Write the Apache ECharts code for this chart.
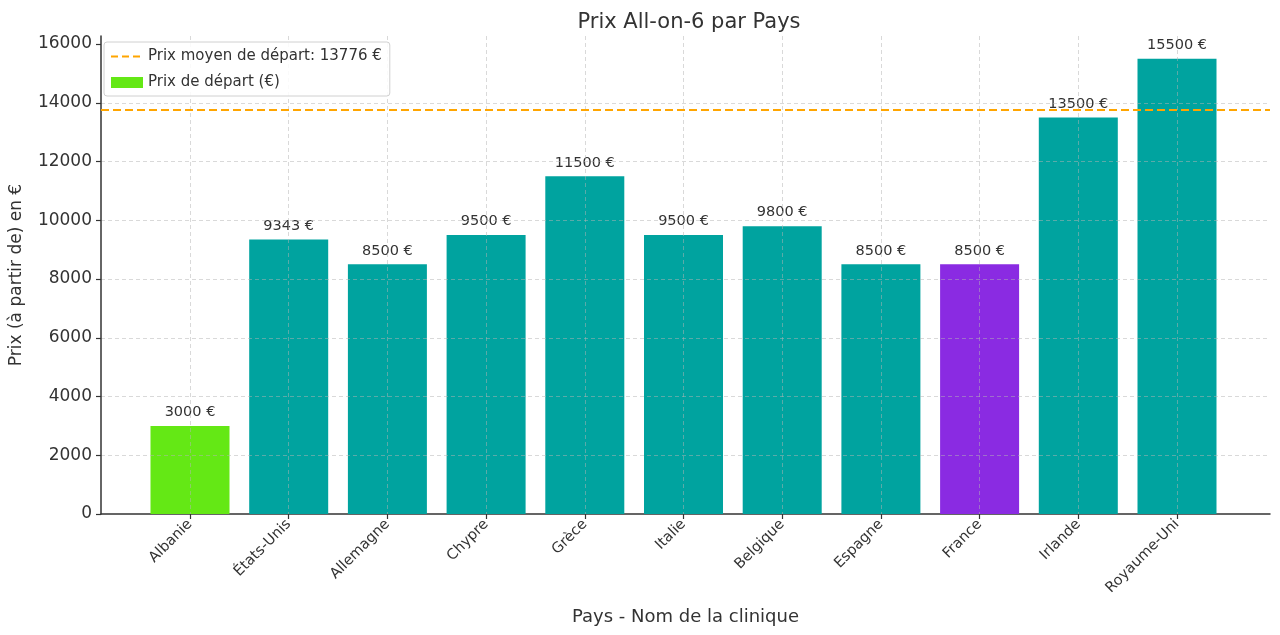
<!DOCTYPE html>
<html>
<head>
<meta charset="utf-8">
<script src="https://cdn.jsdelivr.net/npm/echarts@6/dist/echarts.min.js"></script>
<style>html,body{margin:0;padding:0;background:#fff;}#c{width:1280px;height:635px;}</style>
</head>
<body>
<div id="c"></div>
<script>
const categories = ['Albanie','États-Unis','Allemagne','Chypre','Grèce','Italie','Belgique','Espagne','France','Irlande','Royaume-Uni'];
const prices = [3000, 9343, 8500, 9500, 11500, 9500, 9800, 8500, 8500, 13500, 15500];
const averagePrice = 13776;
const yTicks = [0,2000,4000,6000,8000,10000,12000,14000,16000];

const TEAL = '#00A39F', GREEN = '#64E815', PURPLE = '#8A2BE2';
const colorFor = (c) => c === 'Albanie' ? GREEN : (c === 'France' ? PURPLE : TEAL);
const FONT = 'DejaVu Sans';
const TXT = '#333333';
const YMAX = 16275;
const avgName = 'Prix moyen de départ: ' + averagePrice + ' €';
const barName = 'Prix de départ (€)';

const chart = echarts.init(document.getElementById('c'));
chart.setOption({
  backgroundColor: '#ffffff',
  animation: false,
  textStyle: { fontFamily: FONT },
  title: {
    text: 'Prix All-on-6 par Pays', left: 684, textAlign: 'center', top: 7,
    textStyle: { fontFamily: FONT, fontSize: 21, fontWeight: 'normal', color: TXT }
  },
  legend: {
    orient: 'vertical', left: 104, top: 42,
    data: [
      { name: avgName, itemStyle: { color: 'rgba(0,0,0,0)', borderWidth: 0, opacity: 0 } },
      { name: barName, icon: 'rect' }
    ],
    itemWidth: 32, itemHeight: 11, itemGap: 11,
    padding: [7, 8, 6, 6],
    borderColor: '#d0d0d0', borderWidth: 1, borderRadius: 3,
    backgroundColor: 'rgba(255,255,255,0.85)',
    textStyle: { fontFamily: FONT, fontSize: 15, color: TXT }
  },
  grid: [
    { left: 97, right: 10, top: 36, bottom: 121 },
    { left: 190, right: 103, top: 36, bottom: 121 }
  ],
  xAxis: [
    {
      gridIndex: 0, type: 'value', min: -0.94, max: 10.94,
      name: 'Pays - Nom de la clinique', nameLocation: 'middle', nameGap: 94,
      nameTextStyle: { fontFamily: FONT, fontSize: 18, color: TXT },
      axisLine: { show: true, onZero: false, lineStyle: { color: '#333', width: 1.5 } },
      axisTick: { show: false }, axisLabel: { show: false }, splitLine: { show: false }
    },
    {
      gridIndex: 1, type: 'category', data: categories, boundaryGap: false, z: 3,
      axisLine: { show: false },
      axisTick: { show: true, length: 5, lineStyle: { color: '#333', width: 1.2 } },
      axisLabel: { rotate: 45, fontFamily: FONT, fontSize: 14.5, color: TXT, margin: 8 },
      splitLine: { show: true, lineStyle: { color: 'rgba(180,180,180,0.5)', type: [4, 3], width: 1 } }
    }
  ],
  yAxis: [
    {
      gridIndex: 0, type: 'value', min: 0, max: YMAX, interval: 2000, z: 3,
      name: 'Prix (à partir de) en €', nameLocation: 'middle', nameGap: 76,
      nameTextStyle: { fontFamily: FONT, fontSize: 17, color: TXT },
      axisLine: { show: true, onZero: false, lineStyle: { color: '#333', width: 1.5 } },
      axisTick: { show: true, length: 5, customValues: yTicks, lineStyle: { color: '#333', width: 1.2 } },
      axisLabel: { fontFamily: FONT, fontSize: 17, color: TXT, margin: 9, customValues: yTicks, formatter: (v) => String(v) },
      splitLine: { show: true, showMaxLine: false, showMinLine: false, lineStyle: { color: 'rgba(180,180,180,0.5)', type: [4, 3], width: 1 } }
    },
    {
      gridIndex: 1, type: 'value', min: 0, max: YMAX, show: false, splitLine: { show: false }
    }
  ],
  series: [
    {
      name: barName, type: 'bar', xAxisIndex: 1, yAxisIndex: 1,
      barWidth: 79,
      itemStyle: { color: GREEN },
      data: prices.map((v, i) => ({ value: v, itemStyle: { color: colorFor(categories[i]) } })),
      label: {
        show: true, position: 'top', distance: 6,
        fontFamily: FONT, fontSize: 14.5, color: TXT,
        formatter: (p) => p.value + ' €'
      }
    },
    {
      name: avgName, type: 'line', xAxisIndex: 0, yAxisIndex: 0,
      symbol: 'none', data: [], z: 4,
      itemStyle: { color: '#FFA500' },
      lineStyle: { color: '#FFA500', type: [7, 4], width: 2 },
      markLine: {
        silent: true, symbol: 'none', label: { show: false },
        lineStyle: { color: '#FFA500', type: [8, 4], width: 2 },
        data: [{ yAxis: averagePrice }]
      }
    }
  ]
});
</script>
</body>
</html>
